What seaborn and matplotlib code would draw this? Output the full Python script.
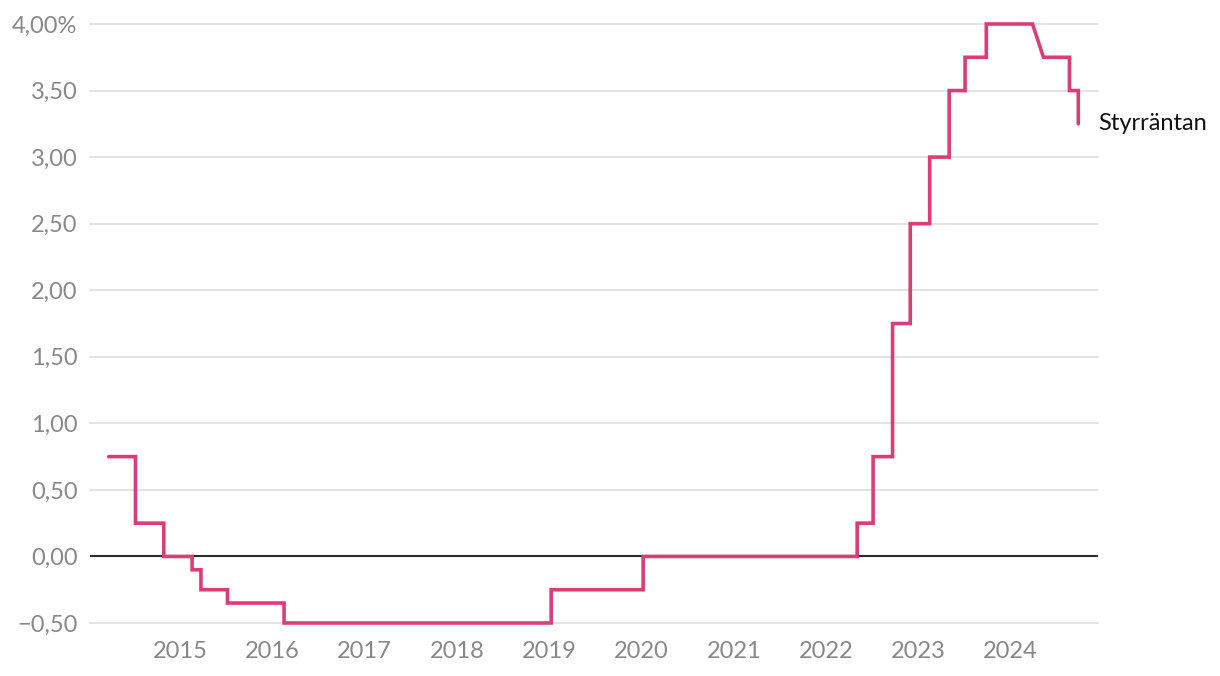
import matplotlib
matplotlib.use("Agg")
import matplotlib.pyplot as plt
import seaborn as sns
import pandas as pd

# Line vertices (date, policy rate %)
dates = ["2014-03-25", "2014-07-09", "2014-07-09", "2014-10-29", "2014-10-29",
         "2015-02-18", "2015-02-18", "2015-03-25", "2015-03-25", "2015-07-08",
         "2015-07-08", "2016-02-17", "2016-02-17", "2019-01-09", "2019-01-09",
         "2020-01-08", "2020-01-08", "2022-05-04", "2022-05-04", "2022-07-06",
         "2022-07-06", "2022-09-21", "2022-09-21", "2022-11-30", "2022-11-30",
         "2023-02-15", "2023-02-15", "2023-05-03", "2023-05-03", "2023-07-05",
         "2023-07-05", "2023-09-27", "2023-09-27", "2024-03-28", "2024-05-10",
         "2024-08-21", "2024-08-21", "2024-09-25", "2024-09-25"]
rates = [0.75, 0.75, 0.25, 0.25, 0.00,
         0.00, -0.10, -0.10, -0.25, -0.25,
         -0.35, -0.35, -0.50, -0.50, -0.25,
         -0.25, 0.00, 0.00, 0.25, 0.25,
         0.75, 0.75, 1.75, 1.75, 2.50,
         2.50, 3.00, 3.00, 3.50, 3.50,
         3.75, 3.75, 4.00, 4.00, 3.75,
         3.75, 3.50, 3.50, 3.25]
y_ticks = [-0.5, 0.0, 0.5, 1.0, 1.5, 2.0, 2.5, 3.0, 3.5, 4.0]
x_years = list(range(2015, 2025))
series_label = "Styrräntan"

df = pd.DataFrame({"date": pd.to_datetime(dates), "rate": rates})

sns.set_theme(style="white")
plt.rcParams["font.family"] = ["Lato", "DejaVu Sans"]

fig = plt.figure(figsize=(12.2, 6.76), dpi=100)
ax = fig.add_axes([90 / 1220, 1 - 623 / 676, (1098 - 90) / 1220, (623 - 24) / 676])

sns.lineplot(data=df, x="date", y="rate", sort=False, estimator=None,
             color="#DE3C77", linewidth=2.6, ax=ax, zorder=4,
             solid_joinstyle="miter", clip_on=False)

ax.set_xlim(pd.Timestamp("2014-01-10"), pd.Timestamp("2024-12-12"))
ax.set_ylim(-0.5, 4.0)

for v in y_ticks:
    if v == 0:
        ax.axhline(v, color="#2b2b2b", linewidth=1.5, zorder=3)
    else:
        ax.axhline(v, color="#e0e0e0", linewidth=1.3, zorder=1, clip_on=False)

ax.set_yticks(y_ticks)
def fmt(v):
    s = f"{abs(v):.2f}".replace(".", ",")
    if v < 0:
        s = "\u2212" + s
    if abs(v - 4.0) < 1e-9:
        s += "%"
    return s
ax.set_yticklabels([fmt(v) for v in y_ticks])
ax.set_xticks([pd.Timestamp(f"{y}-01-01") for y in x_years])
ax.set_xticklabels([str(y) for y in x_years])

ax.tick_params(axis="both", length=0, labelsize=17, labelcolor="#888888")
ax.tick_params(axis="y", pad=9)
ax.tick_params(axis="x", pad=13)
for s in ax.spines.values():
    s.set_visible(False)
ax.set_xlabel("")
ax.set_ylabel("")
ax.grid(False)

ax.text(1.0, rates[-1], series_label, transform=ax.get_yaxis_transform(),
        ha="left", va="center", fontsize=17, color="#111111")

fig.savefig("out.png", dpi=100)
